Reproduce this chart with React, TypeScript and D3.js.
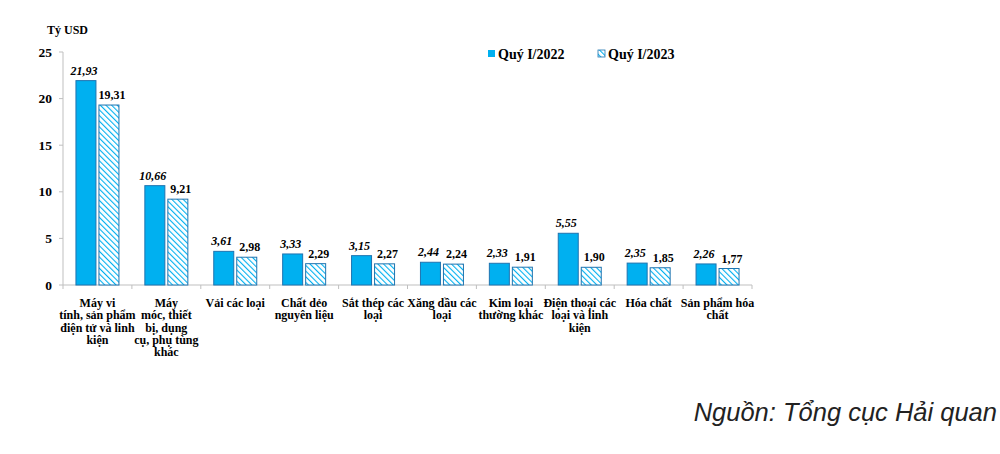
import * as d3 from 'd3'
import React from 'react'

const categories = [
  ['Máy vi', 'tính, sản phẩm', 'điện tử và linh', 'kiện'],
  ['Máy', 'móc, thiết', 'bị, dụng', 'cụ, phụ tùng', 'khác'],
  ['Vải các loại'],
  ['Chất dẻo', 'nguyên liệu'],
  ['Sắt thép các', 'loại'],
  ['Xăng dầu các', 'loại'],
  ['Kim loại', 'thường khác'],
  ['Điện thoại các', 'loại và linh', 'kiện'],
  ['Hóa chất'],
  ['Sản phẩm hóa', 'chất'],
]
const q2022 = [21.93, 10.66, 3.61, 3.33, 3.15, 2.44, 2.33, 5.55, 2.35, 2.26]
const q2023 = [19.31, 9.21, 2.98, 2.29, 2.27, 2.24, 1.91, 1.9, 1.85, 1.77]
const yTicks = [0, 5, 10, 15, 20, 25]
const seriesNames = ['Quý I/2022', 'Quý I/2023']

const serifStyle = { fontFamily: "'Liberation Serif', 'DejaVu Serif', serif" }
const BLUE = '#00b0f0'
const EDGE = '#1f74b0'

const fmt = (v: number) => v.toFixed(2).replace('.', ',')

const App = () => {
  const left = 63
  const right = 752
  const x = d3.scaleBand<number>()
    .domain(d3.range(categories.length))
    .range([left, right])
  const y = d3.scaleLinear().domain([0, 25]).range([285, 52])
  const barW = 20
  const gap = 3

  return (
    <svg width={1000} height={454} style={{ position: 'absolute', left: 0, top: 0, background: '#fff' }}>
      <defs>
        <pattern id="hatch" patternUnits="userSpaceOnUse" width={4} height={4} patternTransform="rotate(-45)">
          <rect width={4} height={4} fill="#fff" />
          <line x1={0} y1={0} x2={0} y2={4} stroke={BLUE} strokeWidth={2.2} />
        </pattern>
      </defs>

      <g style={serifStyle} fontWeight="bold">
        <text x={47} y={34} fontSize={12}>Tỷ USD</text>

        {/* y axis */}
        <line x1={left} x2={left} y1={y(25)} y2={y(0)} stroke="#bfbfbf" />
        {yTicks.map(t => (
          <g key={t}>
            <line x1={left - 4} x2={left} y1={y(t)} y2={y(t)} stroke="#bfbfbf" />
            <text x={52} y={y(t) + 4.5} textAnchor="end" fontSize={13.5}>{t}</text>
          </g>
        ))}

        {/* x axis */}
        <line x1={left} x2={right} y1={y(0)} y2={y(0)} stroke="#bfbfbf" />
        {d3.range(categories.length + 1).map(i => {
          const xx = left + i * x.bandwidth()
          return <line key={i} x1={xx} x2={xx} y1={y(0)} y2={y(0) + 4} stroke="#bfbfbf" />
        })}

        {categories.map((lines, i) => {
          const cx = (x(i) as number) + x.bandwidth() / 2
          const v1 = q2022[i]
          const v2 = q2023[i]
          const x1 = cx - gap / 2 - barW
          const x2 = cx + gap / 2
          return (
            <g key={i}>
              <rect x={x1} y={y(v1)} width={barW} height={y(0) - y(v1)} fill={BLUE} stroke={EDGE} strokeWidth={1} />
              <rect x={x2} y={y(v2)} width={barW} height={y(0) - y(v2)} fill="url(#hatch)" stroke={EDGE} strokeWidth={1} />
              <text x={x1 + barW / 2 - 2} y={y(v1) - 6} textAnchor="middle" fontStyle="italic" fontSize={12}>{fmt(v1)}</text>
              <text x={x2 + barW / 2 + 3} y={y(v2) - 6} textAnchor="middle" fontSize={12}>{fmt(v2)}</text>
              {lines.map((l, k) => (
                <text key={k} x={cx} y={307 + k * 12.3} textAnchor="middle" fontSize={12}>{l}</text>
              ))}
            </g>
          )
        })}

        {/* legend */}
        {seriesNames.map((n, i) => {
          const lx = 488 + i * 110
          return (
            <g key={n}>
              <rect x={lx} y={50} width={7} height={7} fill={i === 0 ? BLUE : 'url(#hatch)'} stroke={i === 0 ? 'none' : EDGE} strokeWidth={0.8} />
              <text x={lx + 10} y={58.5} fontSize={14}>{n}</text>
            </g>
          )
        })}
      </g>

      <text x={997} y={421} textAnchor="end" style={{ fontFamily: "'Liberation Sans', Arial, sans-serif" }} fontStyle="italic" fontSize={25.5} fill="#222">Nguồn: Tổng cục Hải quan</text>
    </svg>
  )
}

export default App
